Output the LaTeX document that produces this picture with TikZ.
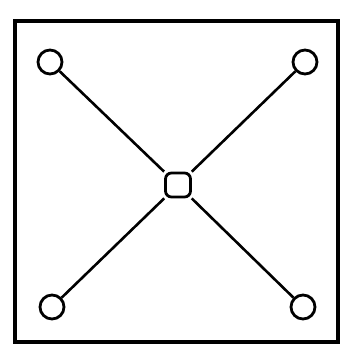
\documentclass[tikz,border=0pt]{standalone}
\begin{document}
\begin{tikzpicture}[x=1pt,y=1pt,
  port/.style={circle,draw,line width=2.8pt,minimum size=24pt,inner sep=0pt,fill=white},
  hub/.style={rectangle,rounded corners=6pt,draw,line width=2.8pt,minimum width=25pt,minimum height=24pt,inner sep=0pt,fill=white},
  link/.style={line width=2.6pt}]
\useasboundingbox (0,0) rectangle (344,347);
\draw[line width=3.2pt] (15,5) rectangle (338,326);
\node[hub] (c) at (178,162) {};
\node[port] (tl) at (50,285) {};
\node[port] (tr) at (305,285) {};
\node[port] (bl) at (52,40) {};
\node[port] (br) at (303,40) {};
\draw[link] (tl) -- (c);
\draw[link] (tr) -- (c);
\draw[link] (bl) -- (c);
\draw[link] (br) -- (c);
\end{tikzpicture}
\end{document}
